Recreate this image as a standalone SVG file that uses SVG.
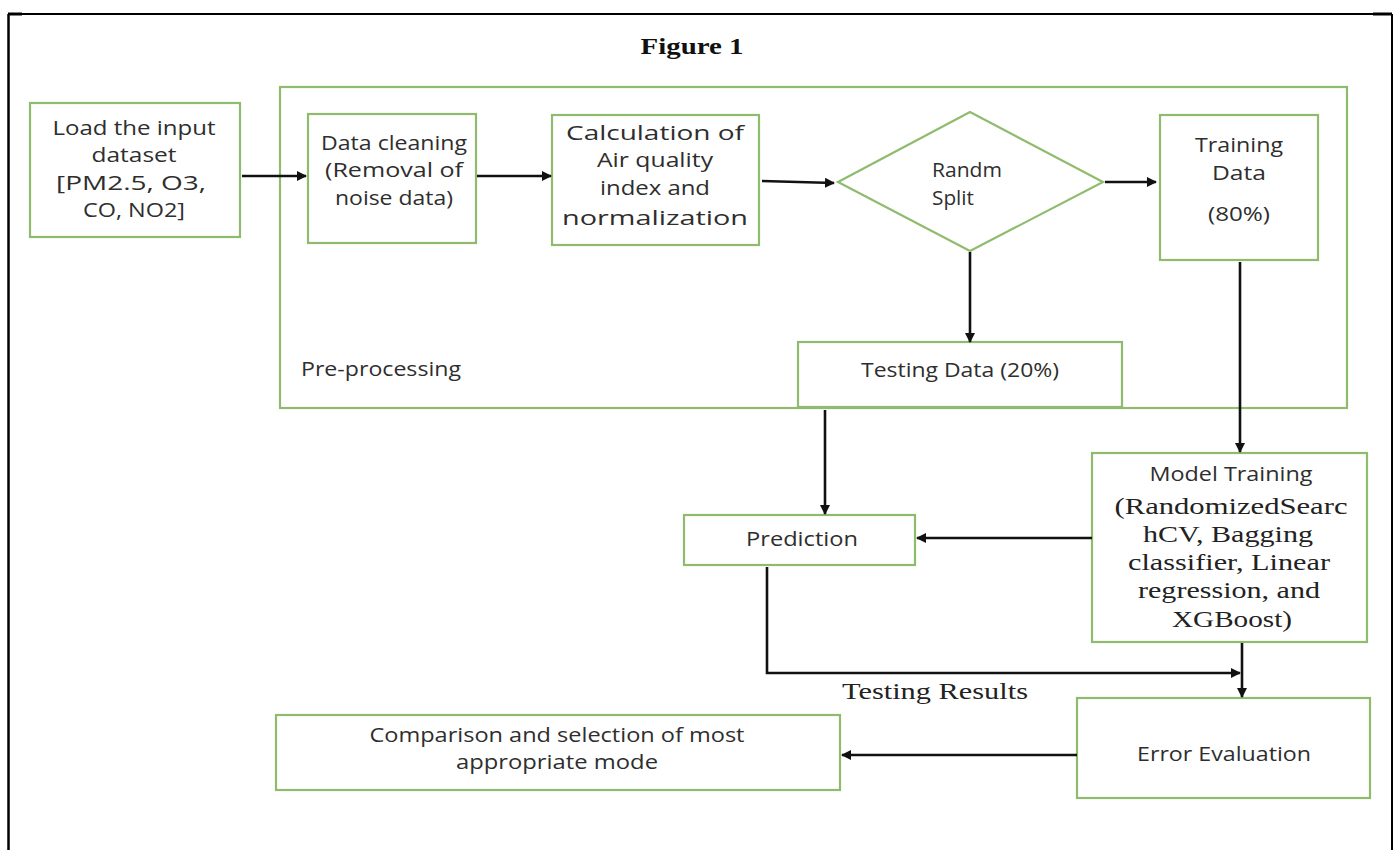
<svg xmlns="http://www.w3.org/2000/svg" width="1398" height="850" viewBox="0 0 1398 850">
<defs>
<style>
.box{fill:#fff;stroke:#8fbb6e;stroke-width:2.2}
.t{font-family:"Open Sans","Liberation Sans",sans-serif;font-size:19.5px;fill:#2e2e2e;text-anchor:middle}
.s{font-family:"Liberation Serif",serif;font-size:23px;fill:#222;text-anchor:middle}
.c{fill:none;stroke:#111;stroke-width:2.6}
</style>
<marker id="ah" markerWidth="10" markerHeight="10" refX="9" refY="5" orient="auto" markerUnits="userSpaceOnUse">
<path d="M0,0 L10,5 L0,10 z" fill="#111"/>
</marker>
</defs>
<rect width="1398" height="850" fill="#fff"/>
<g id="frame" fill="none" stroke="#000" stroke-width="2">
<path d="M8,14 H1392"/>
<path d="M8.5,14 V850" stroke-width="2.5"/>
<path d="M1392,14 V850"/>
<path d="M8,14 H22" stroke-width="3"/>
<path d="M1373,14 H1392" stroke-width="3"/>
</g>
<text x="692" y="54" font-family="Liberation Serif,serif" font-size="23" font-weight="bold" text-anchor="middle" fill="#111" textLength="103" lengthAdjust="spacingAndGlyphs">Figure 1</text>

<g id="preprocessing">
<rect class="box" x="280" y="87" width="1067" height="321"/>
<text class="t" x="301" y="376" style="text-anchor:start" textLength="160" lengthAdjust="spacingAndGlyphs">Pre-processing</text>
</g>
<g id="load">
<rect class="box" x="30" y="103" width="210" height="134"/>
<text class="t" x="134" y="135" textLength="163" lengthAdjust="spacingAndGlyphs">Load the input</text>
<text class="t" x="134" y="162" textLength="85" lengthAdjust="spacingAndGlyphs">dataset</text>
<text class="t" x="131" y="190" textLength="150" lengthAdjust="spacingAndGlyphs">[PM2.5, O3,</text>
<text class="t" x="134" y="217" textLength="102" lengthAdjust="spacingAndGlyphs">CO, NO2]</text>
</g>
<g id="cleaning">
<rect class="box" x="308" y="114" width="168" height="129"/>
<text class="t" x="394" y="150" textLength="146" lengthAdjust="spacingAndGlyphs">Data cleaning</text>
<text class="t" x="394" y="177" textLength="138" lengthAdjust="spacingAndGlyphs">(Removal of</text>
<text class="t" x="394" y="205" textLength="118" lengthAdjust="spacingAndGlyphs">noise data)</text>
</g>
<g id="calc">
<rect class="box" x="552" y="115" width="207" height="130"/>
<text class="t" x="655" y="140" textLength="178" lengthAdjust="spacingAndGlyphs">Calculation of</text>
<text class="t" x="655" y="167" textLength="116" lengthAdjust="spacingAndGlyphs">Air quality</text>
<text class="t" x="655" y="195" textLength="110" lengthAdjust="spacingAndGlyphs">index and</text>
<text class="t" x="655" y="225" textLength="186" lengthAdjust="spacingAndGlyphs">normalization</text>
</g>
<g id="split">
<polygon class="box" points="838,182 970,112 1103,182 970,251"/>
<text class="t" x="932" y="177" style="text-anchor:start" textLength="70" lengthAdjust="spacingAndGlyphs">Randm</text>
<text class="t" x="932" y="205" style="text-anchor:start" textLength="42" lengthAdjust="spacingAndGlyphs">Split</text>
</g>
<g id="training">
<rect class="box" x="1160" y="115" width="158" height="145"/>
<text class="t" x="1239" y="152" textLength="88" lengthAdjust="spacingAndGlyphs">Training</text>
<text class="t" x="1239" y="180" textLength="54" lengthAdjust="spacingAndGlyphs">Data</text>
<text class="t" x="1239" y="221" textLength="62" lengthAdjust="spacingAndGlyphs">(80%)</text>
</g>
<g id="testing">
<rect class="box" x="798" y="342" width="324" height="65"/>
<text class="t" x="960" y="377" textLength="198" lengthAdjust="spacingAndGlyphs">Testing Data (20%)</text>
</g>
<g id="model">
<rect class="box" x="1092" y="453" width="275" height="189"/>
<text class="t" x="1231" y="481" textLength="163" lengthAdjust="spacingAndGlyphs">Model Training</text>
<text class="s" x="1231" y="514" textLength="233" lengthAdjust="spacingAndGlyphs">(RandomizedSearc</text>
<text class="s" x="1228" y="542" textLength="170" lengthAdjust="spacingAndGlyphs">hCV, Bagging</text>
<text class="s" x="1229" y="570" textLength="202" lengthAdjust="spacingAndGlyphs">classifier, Linear</text>
<text class="s" x="1229" y="598" textLength="182" lengthAdjust="spacingAndGlyphs">regression, and</text>
<text class="s" x="1232" y="627" textLength="120" lengthAdjust="spacingAndGlyphs">XGBoost)</text>
</g>
<g id="prediction">
<rect class="box" x="684" y="515" width="231" height="50"/>
<text class="t" x="802" y="546" textLength="112" lengthAdjust="spacingAndGlyphs">Prediction</text>
</g>
<g id="error">
<rect class="box" x="1077" y="698" width="293" height="100"/>
<text class="t" x="1224" y="761" textLength="174" lengthAdjust="spacingAndGlyphs">Error Evaluation</text>
</g>
<g id="comparison">
<rect class="box" x="276" y="715" width="564" height="75"/>
<text class="t" x="557" y="742" textLength="375" lengthAdjust="spacingAndGlyphs">Comparison and selection of most</text>
<text class="t" x="557" y="769" textLength="202" lengthAdjust="spacingAndGlyphs">appropriate mode</text>
</g>
<text class="s" x="935" y="699" textLength="186" lengthAdjust="spacingAndGlyphs">Testing Results</text>

<g id="connectors">
<path class="c" marker-end="url(#ah)" d="M242,176 H306"/>
<path class="c" marker-end="url(#ah)" d="M477,176 H551"/>
<path class="c" marker-end="url(#ah)" d="M762,181 L834,183"/>
<path class="c" marker-end="url(#ah)" d="M1105,182 H1156"/>
<path class="c" marker-end="url(#ah)" d="M970,252 V342"/>
<path class="c" marker-end="url(#ah)" d="M1240,262 V452"/>
<path class="c" marker-end="url(#ah)" d="M825,410 V514"/>
<path class="c" marker-end="url(#ah)" d="M1092,538 H917"/>
<path class="c" marker-end="url(#ah)" d="M767,567 V673 H1240"/>
<path class="c" marker-end="url(#ah)" d="M1242,643 V697"/>
<path class="c" marker-end="url(#ah)" d="M1077,755 H842"/>
</g>
</svg>
